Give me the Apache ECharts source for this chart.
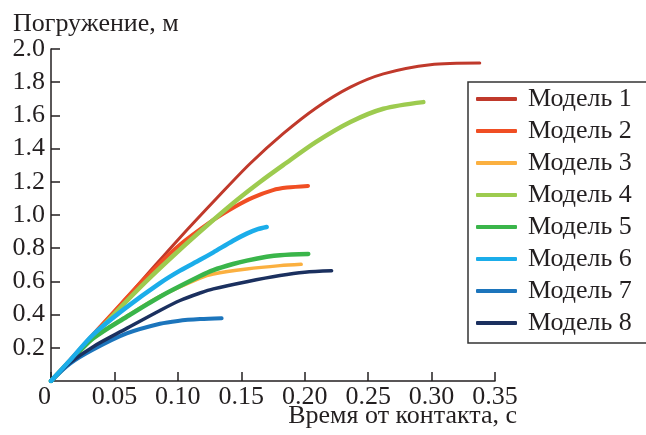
<!DOCTYPE html>
<html>
<head>
<meta charset="utf-8">
<script src="https://cdn.jsdelivr.net/npm/echarts@6/dist/echarts.min.js"></script>
<style>
  html, body { margin: 0; padding: 0; background: #fff; }
  #chart { width: 646px; height: 435px; }
</style>
</head>
<body>
<div id="chart"></div>
<script>
// время от контакта (с) и погружение (м) для каждой модели
const model1T = [0, 0.025, 0.05, 0.075, 0.1, 0.133, 0.157, 0.183, 0.209, 0.236, 0.262, 0.299, 0.338];
const model1V = [0, 0.21, 0.42, 0.635, 0.85, 1.12, 1.31, 1.49, 1.645, 1.77, 1.85, 1.905, 1.915];

const model2T = [0, 0.025, 0.05, 0.075, 0.1, 0.128, 0.145, 0.159, 0.175, 0.186, 0.2026];
const model2V = [0, 0.21, 0.42, 0.625, 0.81, 0.97, 1.05, 1.105, 1.15, 1.165, 1.175];

const model3T = [0, 0.015, 0.0333, 0.0597, 0.0859, 0.1175, 0.128, 0.1543, 0.1805, 0.1972];
const model3V = [0, 0.12, 0.26, 0.39, 0.51, 0.62, 0.645, 0.675, 0.695, 0.703];

const model4T = [0, 0.025, 0.05, 0.075, 0.1, 0.125, 0.1466, 0.165, 0.183, 0.209, 0.236, 0.262, 0.2935];
const model4V = [0, 0.2, 0.405, 0.6, 0.78, 0.95, 1.09, 1.2, 1.3, 1.44, 1.56, 1.64, 1.68];

const model5T = [0, 0.015, 0.0333, 0.0597, 0.0859, 0.1175, 0.128, 0.1435, 0.1543, 0.17, 0.1805, 0.2028];
const model5V = [0, 0.12, 0.257, 0.387, 0.508, 0.632, 0.668, 0.705, 0.725, 0.748, 0.758, 0.765];

const model6T = [0, 0.015, 0.0333, 0.0597, 0.0859, 0.1017, 0.1175, 0.128, 0.1435, 0.1543, 0.163, 0.17];
const model6V = [0, 0.125, 0.28, 0.445, 0.59, 0.665, 0.73, 0.775, 0.845, 0.888, 0.915, 0.928];

const model7T = [0, 0.015, 0.0333, 0.0597, 0.0859, 0.1, 0.1175, 0.1345];
const model7V = [0, 0.105, 0.19, 0.287, 0.345, 0.362, 0.373, 0.378];

const model8T = [0, 0.015, 0.0333, 0.0597, 0.0859, 0.1017, 0.1175, 0.128, 0.1543, 0.1805, 0.2, 0.2212];
const model8V = [0, 0.11, 0.207, 0.317, 0.425, 0.485, 0.53, 0.555, 0.598, 0.635, 0.655, 0.664];

const modelNames = ['Модель 1', 'Модель 2', 'Модель 3', 'Модель 4', 'Модель 5', 'Модель 6', 'Модель 7', 'Модель 8'];
const modelColors = ['#c0392b', '#f04e23', '#fbb040', '#9dcb4f', '#3ab54a', '#1badea', '#1c75bc', '#1b305f'];
const modelWidths = [3, 4, 3.5, 4.5, 4.5, 4.5, 4, 3.5];

const FONT = 'Liberation Serif';
const FONT_SIZE = 26;
const TEXT_COLOR = '#231f20';

const allT = [model1T, model2T, model3T, model4T, model5T, model6T, model7T, model8T];
const allV = [model1V, model2V, model3V, model4V, model5V, model6V, model7V, model8V];

function pairs(ts, vs) {
    return ts.map((t, i) => [t, vs[i]]);
}

const series = modelNames.map((name, i) => ({
    name: name,
    type: 'line',
    data: pairs(allT[i], allV[i]),
    smooth: 0.3,
    showSymbol: false,
    z: i === 5 ? 5 : 2,
    lineStyle: { color: modelColors[i], width: modelWidths[i], cap: 'round' },
    itemStyle: { color: modelColors[i] }
}));

const chart = echarts.init(document.getElementById('chart'), null, { renderer: 'canvas' });

chart.setOption({
    animation: false,
    backgroundColor: '#fff',
    title: [
        {
            // подпись оси Y
            text: 'Погружение, м',
            left: 13,
            top: 11,
            padding: 0,
            textStyle: { fontFamily: FONT, fontSize: FONT_SIZE, fontWeight: 'normal', color: TEXT_COLOR }
        },
        {
            // подпись оси X
            text: 'Время от контакта, с',
            right: 129,
            top: 403,
            padding: 0,
            textStyle: { fontFamily: FONT, fontSize: FONT_SIZE, fontWeight: 'normal', color: TEXT_COLOR }
        }
    ],
    legend: {
        orient: 'vertical',
        left: 468,
        top: 82,
        padding: [4, 15, 7, 8],
        itemGap: 6,
        itemWidth: 41,
        itemHeight: 4,
        icon: 'roundRect',
        borderColor: '#333',
        borderWidth: 1.5,
        textStyle: { fontFamily: FONT, fontSize: FONT_SIZE, lineHeight: 24, color: TEXT_COLOR, padding: [0, 0, 0, 6] },
        data: modelNames
    },
    grid: { left: 51, right: 151, top: 49, bottom: 54, containLabel: false, outerBoundsMode: 'none' },
    xAxis: {
        type: 'value',
        min: 0,
        max: 0.35,
        interval: 0.05,
        splitLine: { show: false },
        axisLine: { lineStyle: { color: TEXT_COLOR, width: 1.5 } },
        axisTick: { inside: true, length: 9, lineStyle: { color: TEXT_COLOR, width: 1.5 } },
        axisLabel: {
            fontFamily: FONT, fontSize: FONT_SIZE, color: TEXT_COLOR, margin: 3,
            alignMinLabel: 'right',
            formatter: v => (v === 0 ? '0' : v.toFixed(2))
        }
    },
    yAxis: {
        type: 'value',
        min: 0,
        max: 2,
        interval: 0.2,
        splitLine: { show: false },
        axisLine: { show: true, lineStyle: { color: TEXT_COLOR, width: 1.5 } },
        axisTick: { show: true, inside: true, length: 9, lineStyle: { color: TEXT_COLOR, width: 1.5 } },
        axisLabel: {
            fontFamily: FONT, fontSize: FONT_SIZE, color: TEXT_COLOR, margin: 6,
            showMinLabel: false,
            formatter: v => v.toFixed(1)
        }
    },
    series: series
});
</script>
</body>
</html>
